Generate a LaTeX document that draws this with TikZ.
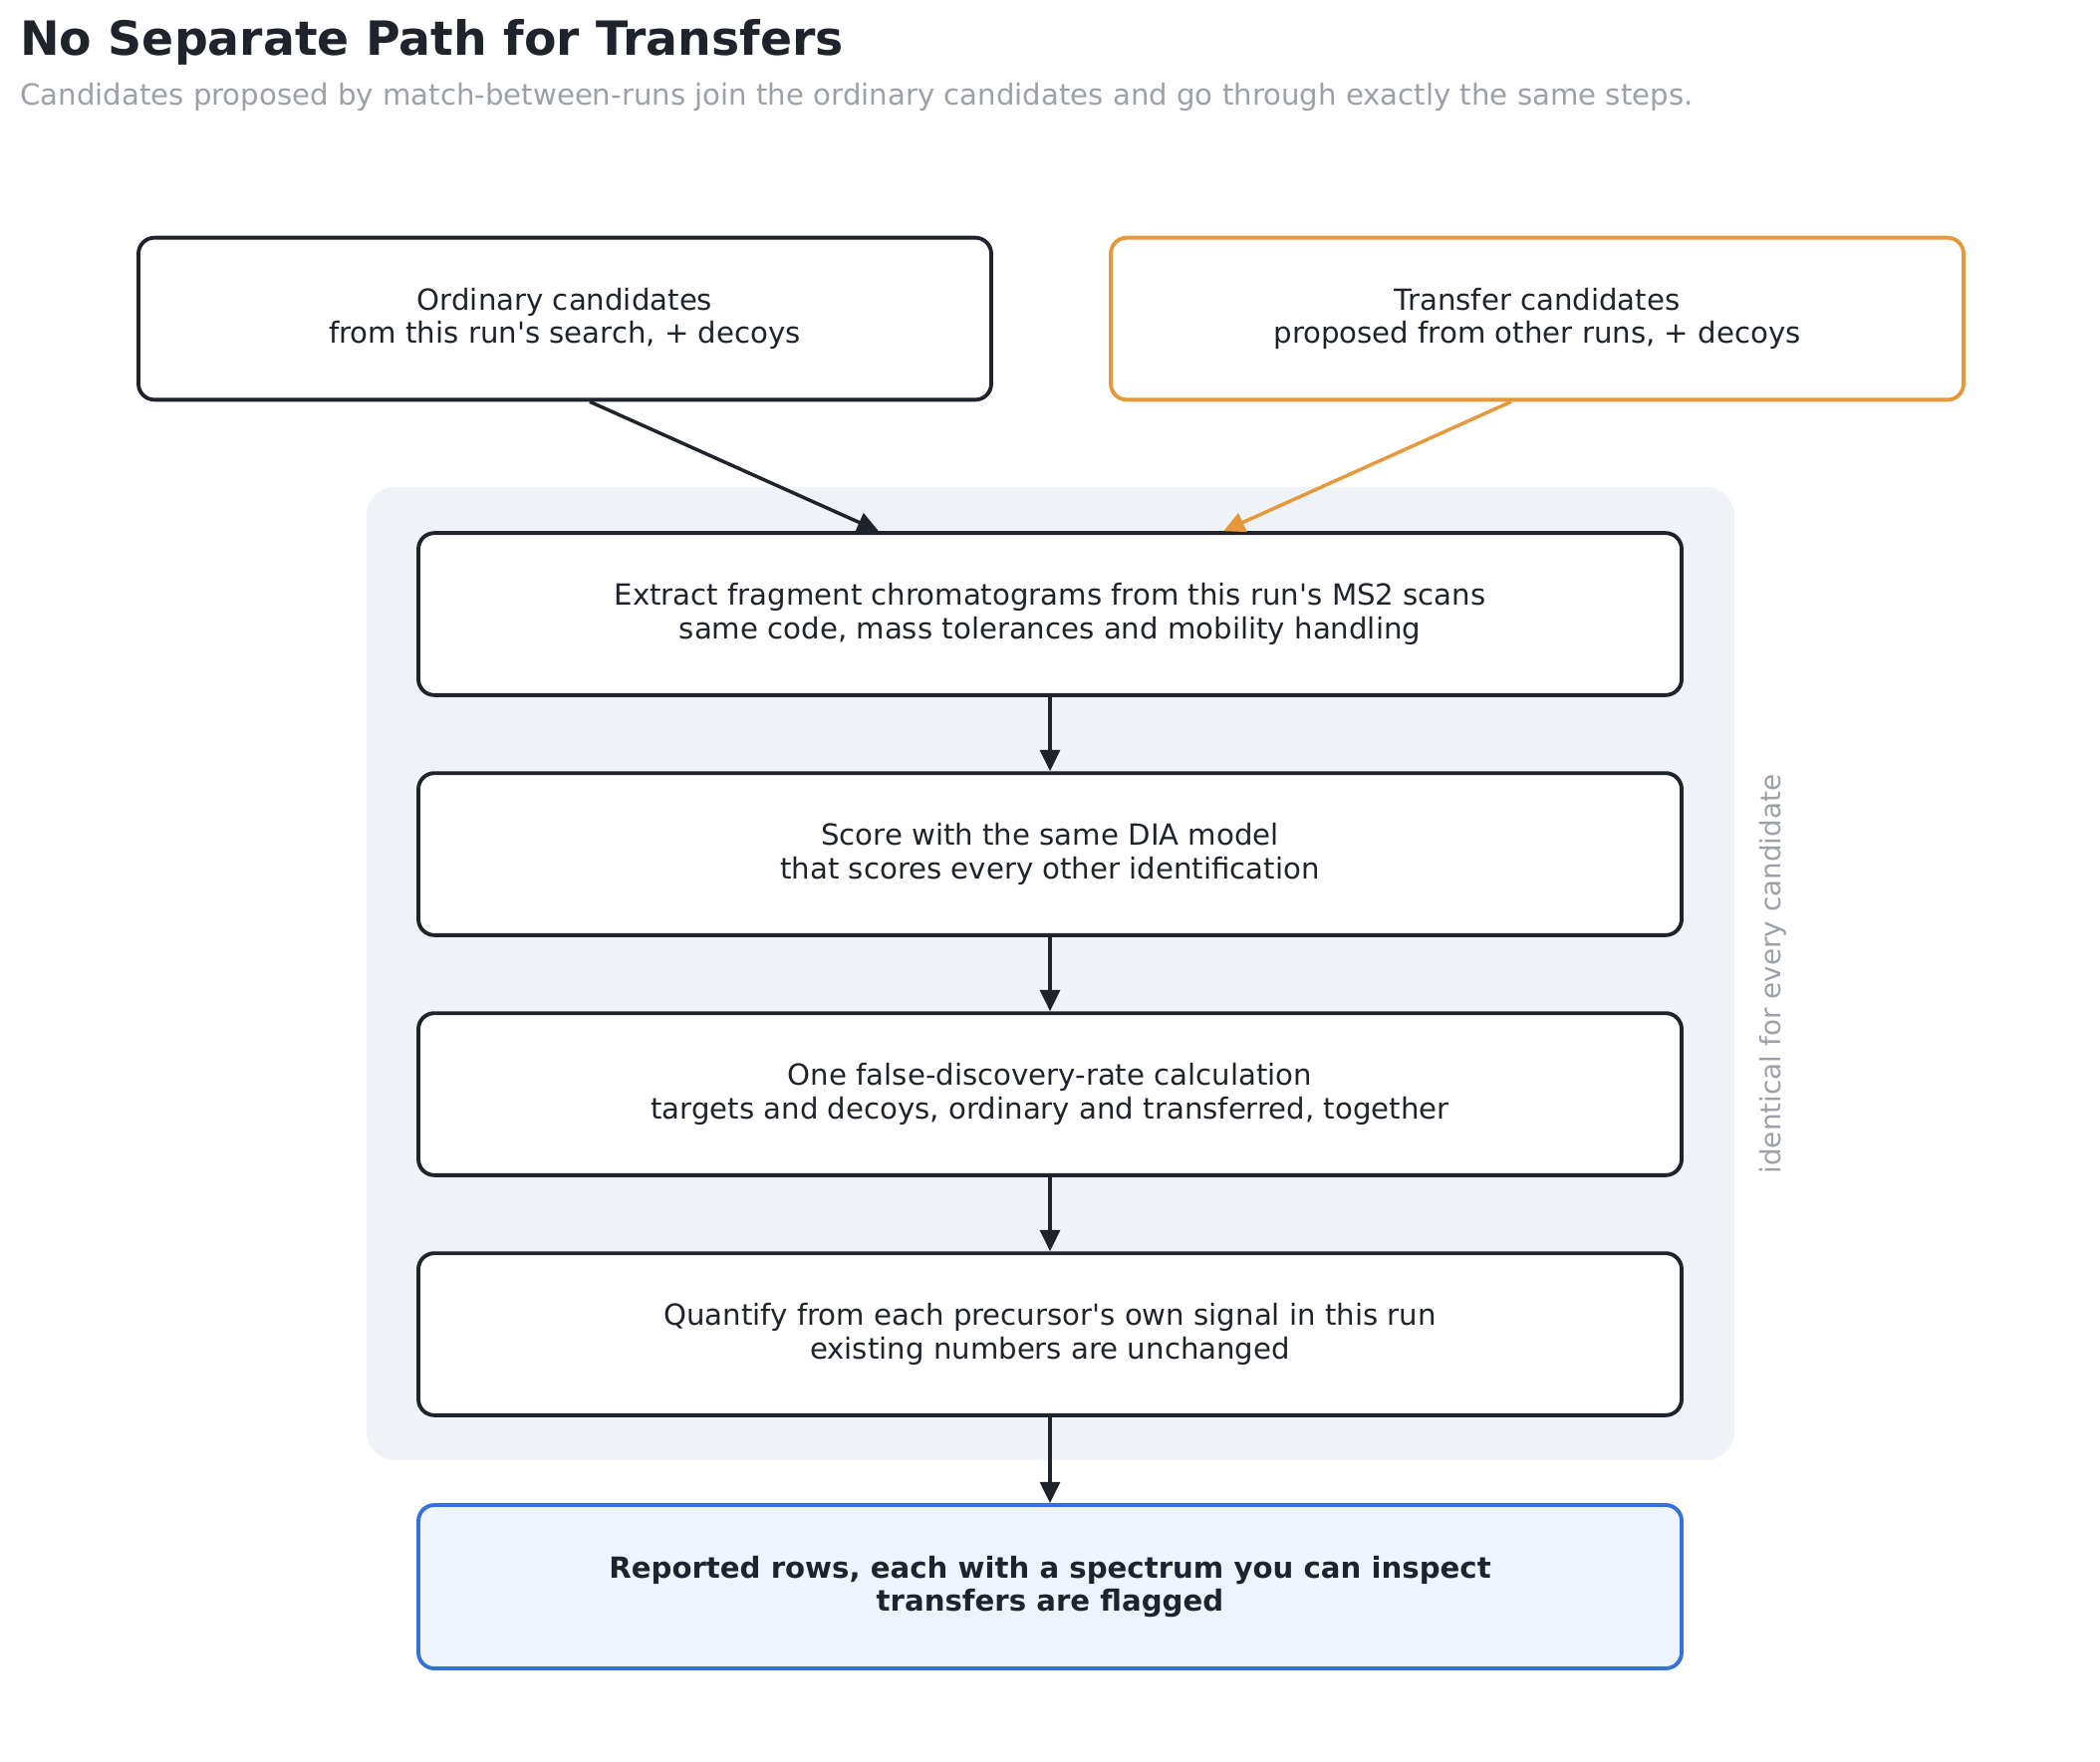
\documentclass[tikz,border=0pt]{standalone}
\usepackage{fontspec}
\setmainfont{DejaVu Sans}[Ligatures=TeXOff]
\usetikzlibrary{arrows.meta}
\definecolor{ink}{HTML}{1F232C}
\definecolor{subgray}{HTML}{9CA0A7}
\definecolor{orangeln}{HTML}{E6983A}
\definecolor{blueln}{HTML}{3571DB}
\definecolor{bluefill}{HTML}{EEF3FC}
\definecolor{groupbg}{HTML}{EFF2F7}
\begin{document}
\begin{tikzpicture}[x=0.75pt,y=-0.75pt,
  boxtext/.style={font=\fontsize{21.9}{25}\selectfont, text=ink, align=center},
  topbox/.style={boxtext, draw=ink, line width=2.9pt, rounded corners=12pt, fill=white,
    minimum width=642pt, minimum height=122pt, inner sep=0pt},
  stepbox/.style={boxtext, draw=ink, line width=2.9pt, rounded corners=12pt, fill=white,
    minimum width=951pt, minimum height=122pt, inner sep=0pt},
  conn/.style={draw=ink, line width=2.6pt, -{Triangle[length=16pt,width=15pt]}},
]
\useasboundingbox (0,0) rectangle (2108,1768);
\fill[white] (0,0) rectangle (2108,1768);

% title and subtitle
\node[anchor=base west, inner sep=0pt, text=ink, font=\fontsize{35.5}{40}\selectfont\bfseries] (title) at (20,55) {No Separate Path for Transfers};
\node[anchor=base west, inner sep=0pt, text=subgray, font=\fontsize{21.9}{25}\selectfont] (subtitle) at (20,105) {Candidates proposed by match-between-runs join the ordinary candidates and go through exactly the same steps.};

% group background
\node[fill=groupbg, rounded corners=22pt, minimum width=1030pt, minimum height=733pt, inner sep=0pt] (grp) at (1054.5,977.5) {};
\node[rotate=90, text=subgray, font=\fontsize{20.9}{24}\selectfont, inner sep=0pt] (side) at (1780,978) {identical for every candidate};

% top boxes
\node[topbox] (ord) at (567,320) {Ordinary candidates\\from this run's search, + decoys};
\node[topbox, draw=orangeln] (tra) at (1543,320) {Transfer candidates\\proposed from other runs, + decoys};

% steps
\node[stepbox] (s1) at (1054,616.5) {Extract fragment chromatograms from this run's MS2 scans\\same code, mass tolerances and mobility handling};
\node[stepbox] (s2) at (1054,857.5) {Score with the same DIA model\\that scores every other identification};
\node[stepbox] (s3) at (1054,1098.5) {One false-discovery-rate calculation\\targets and decoys, ordinary and transferred, together};
\node[stepbox] (s4) at (1054,1339.5) {Quantify from each precursor's own signal in this run\\existing numbers are unchanged};
\node[stepbox, draw=blueln, fill=bluefill, font=\fontsize{21.9}{25}\selectfont\bfseries, minimum height=123pt] (fin) at (1054,1593) {Reported rows, each with a spectrum you can inspect\\transfers are flagged};

% connectors
\draw[conn] ([xshift=18.75pt]ord.south) -- ([xshift=-129pt]s1.north);
\draw[conn, draw=orangeln] ([xshift=-19.5pt]tra.south) -- ([xshift=130.5pt]s1.north);
\draw[conn] (s1) -- (s2);
\draw[conn] (s2) -- (s3);
\draw[conn] (s3) -- (s4);
\draw[conn] (s4) -- (fin);
\end{tikzpicture}
\end{document}
